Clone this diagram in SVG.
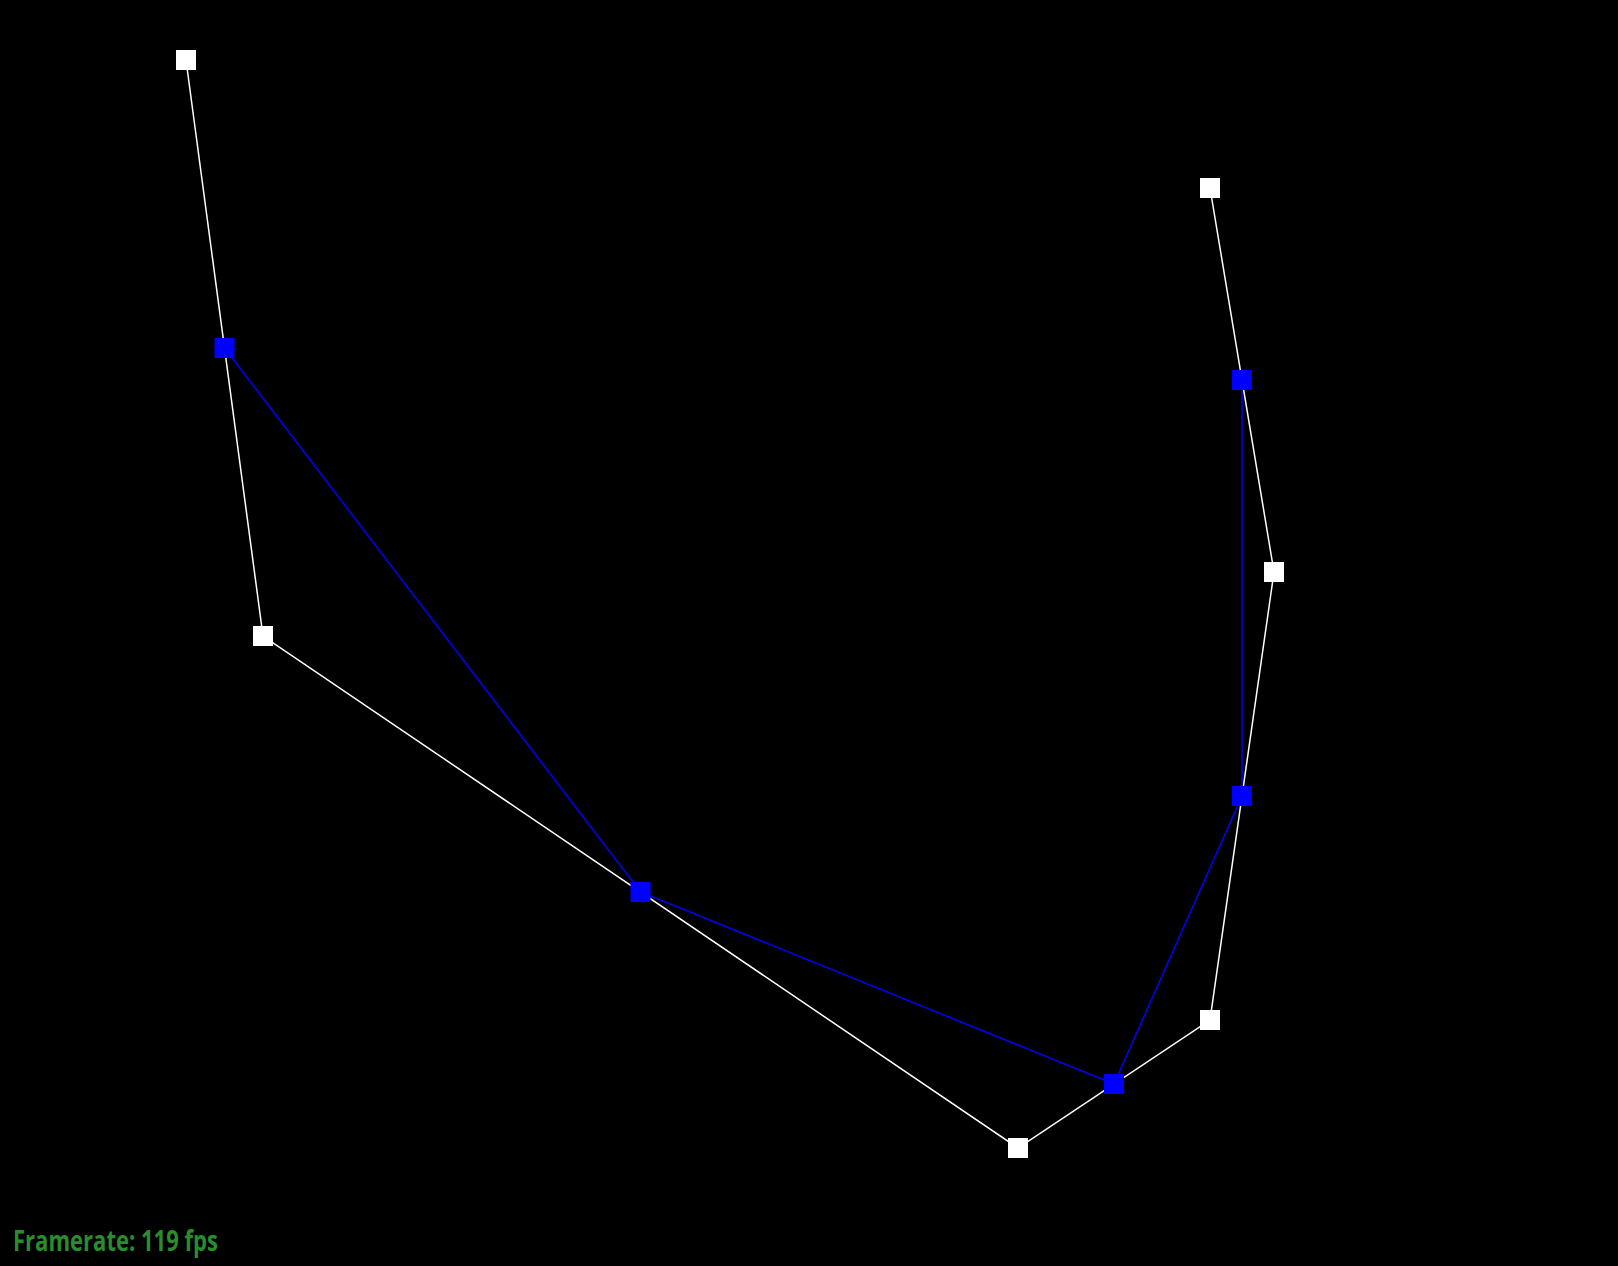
<svg xmlns="http://www.w3.org/2000/svg" width="1618" height="1266" viewBox="0 0 1618 1266">
<style>
.ctrl{fill:none;stroke:#ffffff;stroke-width:1.5}
.mid{fill:none;stroke:#0000ff;stroke-width:1.5}
.wpt{fill:#ffffff}
.bpt{fill:#0000ff}
.fps{font-family:"Open Sans","Noto Sans","DejaVu Sans Condensed",sans-serif;font-weight:bold;font-size:29px;fill:#2b8c2b}
</style>
<rect x="0" y="0" width="1618" height="1266" fill="#000000"/>
<g id="connectors">
<polyline class="ctrl" points="186,60 263,636 1018,1148 1210,1020 1274,572 1210,188"/>
<polyline class="mid" points="224.5,348 640.5,892 1114,1084 1242,796 1242,380"/>
</g>
<g id="p0"><rect class="wpt" x="176" y="50" width="20" height="20"/></g>
<g id="p1"><rect class="wpt" x="253" y="626" width="20" height="20"/></g>
<g id="p2"><rect class="wpt" x="1008" y="1138" width="20" height="20"/></g>
<g id="p3"><rect class="wpt" x="1200" y="1010" width="20" height="20"/></g>
<g id="p4"><rect class="wpt" x="1264" y="562" width="20" height="20"/></g>
<g id="p5"><rect class="wpt" x="1200" y="178" width="20" height="20"/></g>
<g id="m0"><rect class="bpt" x="214.5" y="338" width="20" height="20"/></g>
<g id="m1"><rect class="bpt" x="630.5" y="882" width="20" height="20"/></g>
<g id="m2"><rect class="bpt" x="1104" y="1074" width="20" height="20"/></g>
<g id="m3"><rect class="bpt" x="1232" y="786" width="20" height="20"/></g>
<g id="m4"><rect class="bpt" x="1232" y="370" width="20" height="20"/></g>
<g id="label"><text class="fps" x="13" y="1251" textLength="205" lengthAdjust="spacingAndGlyphs">Framerate: 119 fps</text></g>
</svg>
